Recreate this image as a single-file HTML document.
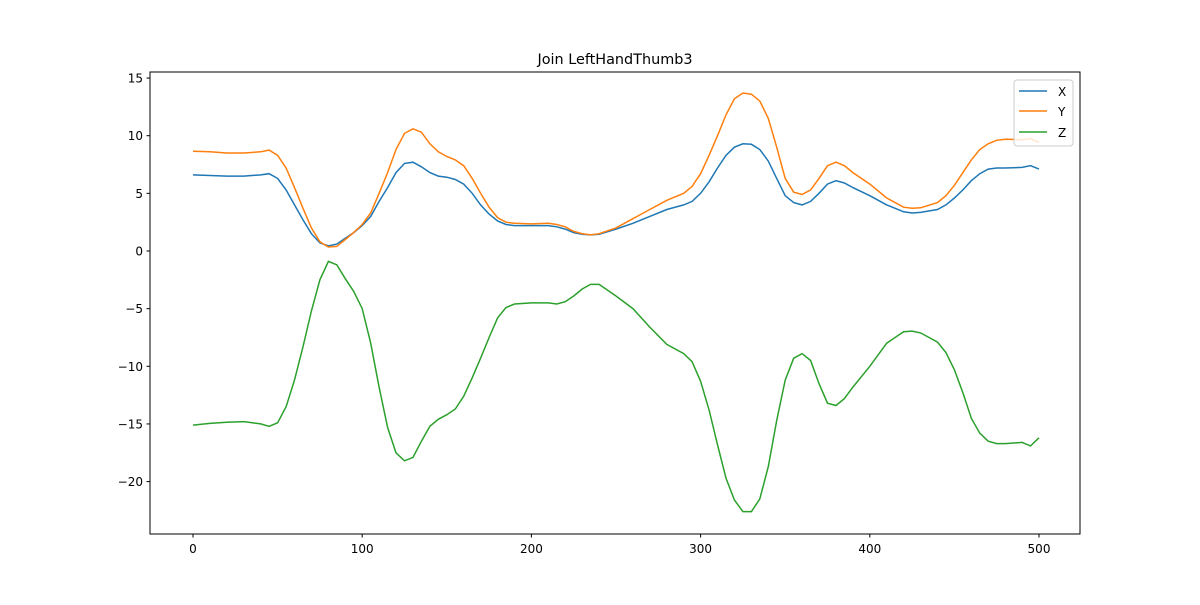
<!DOCTYPE html>
<html><head><meta charset="utf-8"><style>
body{margin:0;background:#fff;}
svg text{font-family:"DejaVu Sans","Liberation Sans",sans-serif;}
</style></head><body>
<svg id="chart" width="1200" height="600" xmlns="http://www.w3.org/2000/svg">
<rect width="1200" height="600" fill="#fff"/>
<text x="615" y="64" font-size="14.4" text-anchor="middle">Join LeftHandThumb3</text>
<g id="plot"></g>
<rect x="150" y="72" width="930" height="462" fill="none" stroke="#000" stroke-width="1"/>
<g id="axes"></g>
<g>
<rect x="1014" y="80" width="59" height="66" rx="3" fill="#fff" fill-opacity="0.8" stroke="#ccc"/>
<line x1="1019" y1="91" x2="1047" y2="91" stroke="#1f77b4" stroke-width="1.5"/>
<text x="1058" y="96" font-size="12">X</text>
<line x1="1019" y1="111" x2="1047" y2="111" stroke="#ff7f0e" stroke-width="1.5"/>
<text x="1058" y="116" font-size="12">Y</text>
<line x1="1019" y1="132" x2="1047" y2="132" stroke="#2ca02c" stroke-width="1.5"/>
<text x="1058" y="137" font-size="12">Z</text>
</g>
</svg>
<script>
const frames=[0,10,20,30,40,45,50,55,60,65,70,75,80,85,90,95,100,105,110,115,120,125,130,135,140,145,150,155,160,165,170,175,180,185,190,200,210,215,220,225,230,235,240,250,260,270,280,290,295,300,305,310,315,320,325,330,335,340,345,350,355,360,365,370,375,380,385,390,400,410,420,425,430,440,445,450,455,460,465,470,475,480,490,495,500];
const seriesX=[6.6,6.55,6.5,6.5,6.6,6.7,6.3,5.3,4.0,2.7,1.5,0.7,0.45,0.6,1.1,1.6,2.2,3.0,4.3,5.5,6.8,7.6,7.7,7.3,6.8,6.5,6.4,6.2,5.8,5.0,4.0,3.2,2.6,2.3,2.2,2.2,2.2,2.1,1.9,1.6,1.45,1.4,1.45,1.9,2.4,3.0,3.6,4.0,4.3,5.0,6.0,7.2,8.3,9.0,9.3,9.25,8.8,7.8,6.3,4.8,4.2,4.0,4.3,5.0,5.8,6.1,5.9,5.5,4.8,4.0,3.4,3.3,3.35,3.6,4.0,4.6,5.3,6.1,6.7,7.1,7.2,7.2,7.25,7.4,7.1];
const seriesY=[8.65,8.6,8.5,8.5,8.6,8.75,8.3,7.2,5.5,3.7,2.0,0.8,0.35,0.4,1.0,1.6,2.3,3.3,5.0,6.8,8.8,10.2,10.6,10.3,9.3,8.6,8.2,7.9,7.4,6.3,5.0,3.8,2.9,2.5,2.4,2.35,2.4,2.3,2.1,1.7,1.5,1.4,1.5,2.0,2.8,3.6,4.4,5.0,5.6,6.7,8.3,10.0,11.8,13.2,13.7,13.6,13.0,11.5,9.0,6.3,5.1,4.9,5.3,6.3,7.4,7.7,7.4,6.8,5.8,4.6,3.8,3.7,3.75,4.2,4.8,5.7,6.8,7.9,8.8,9.3,9.6,9.7,9.65,9.75,9.4];
const seriesZ=[-15.1,-14.95,-14.85,-14.8,-15.0,-15.2,-14.9,-13.5,-11.2,-8.3,-5.2,-2.5,-0.9,-1.2,-2.4,-3.5,-5.0,-8.0,-11.8,-15.3,-17.5,-18.2,-17.9,-16.5,-15.2,-14.6,-14.2,-13.7,-12.6,-11.0,-9.3,-7.5,-5.8,-4.9,-4.6,-4.5,-4.5,-4.6,-4.4,-3.9,-3.3,-2.9,-2.9,-3.9,-5.0,-6.6,-8.1,-8.9,-9.6,-11.3,-13.8,-16.8,-19.7,-21.6,-22.6,-22.6,-21.5,-18.7,-14.7,-11.2,-9.3,-8.9,-9.5,-11.5,-13.2,-13.4,-12.8,-11.8,-10.0,-8.0,-7.0,-6.95,-7.1,-7.9,-8.8,-10.3,-12.3,-14.5,-15.8,-16.5,-16.7,-16.7,-16.6,-16.9,-16.2];
const xTicks=[0,100,200,300,400,500];
const yTicks=[15,10,5,0,-5,-10,-15,-20];
const NS="http://www.w3.org/2000/svg";
function sx(v){return 193+v*(1039-193)/500;}
function sy(v){return 251-v*11.53;}
const plot=document.getElementById('plot'),axes=document.getElementById('axes');
function line(data,color,name){
  const p=document.createElementNS(NS,'path');
  let d='';
  data.forEach((v,i)=>{d+=(i?'L':'M')+sx(frames[i]).toFixed(1)+','+sy(v).toFixed(1);});
  p.setAttribute('d',d);p.setAttribute('fill','none');p.setAttribute('stroke',color);p.setAttribute('stroke-width','1.5');
  
  
  plot.appendChild(p);
}
line(seriesX,'#1f77b4','series-x-line');
line(seriesY,'#ff7f0e','series-y-line');
line(seriesZ,'#2ca02c','series-z-line');
xTicks.forEach(t=>{
  const x=sx(t);
  const l=document.createElementNS(NS,'line');
  l.setAttribute('x1',x);l.setAttribute('x2',x);l.setAttribute('y1',534);l.setAttribute('y2',537.5);l.setAttribute('stroke','#000');
  
  
  axes.appendChild(l);
  const tx=document.createElementNS(NS,'text');
  tx.setAttribute('x',x);tx.setAttribute('y',553);tx.setAttribute('font-size','12');tx.setAttribute('text-anchor','middle');
  tx.textContent=t;
  
  
  axes.appendChild(tx);
});
yTicks.forEach(t=>{
  const y=sy(t);
  const l=document.createElementNS(NS,'line');
  l.setAttribute('x1',146.5);l.setAttribute('x2',150);l.setAttribute('y1',y);l.setAttribute('y2',y);l.setAttribute('stroke','#000');
  
  
  axes.appendChild(l);
  const tx=document.createElementNS(NS,'text');
  tx.setAttribute('x',143);tx.setAttribute('y',y+4.5);tx.setAttribute('font-size','12');tx.setAttribute('text-anchor','end');
  tx.textContent=t<0?'\u2212'+(-t):String(t);
  
  
  axes.appendChild(tx);
});
</script>
</body></html>
